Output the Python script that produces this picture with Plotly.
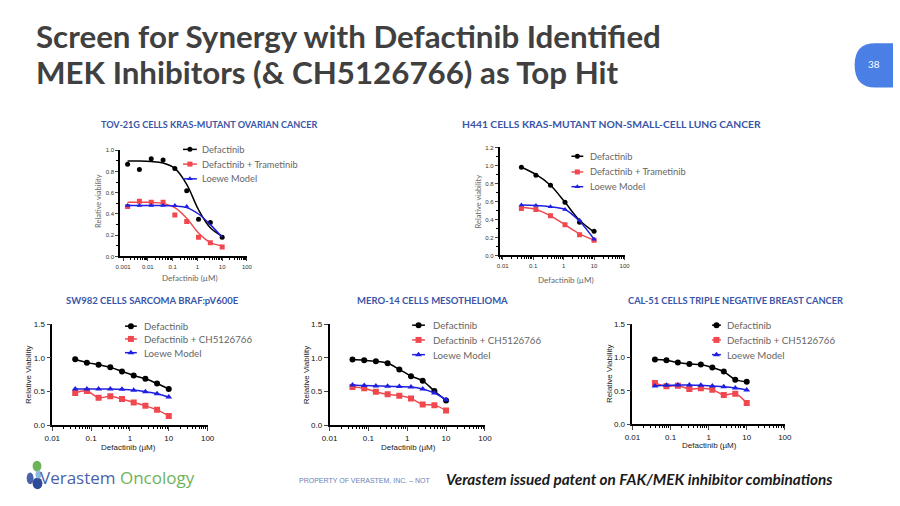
import plotly.graph_objects as go

W, H = 900, 506
def PX(x): return x / W
def PY(y): return 1 - y / H

# ---------------- DATA ----------------
# Panel 1: TOV-21G (Trametinib)
p1_x = [0.00152, 0.00457, 0.0137, 0.0412, 0.123, 0.37, 1.11, 3.33, 10]
p1_def = [0.87, 0.82, 0.92, 0.91, 0.83, 0.62, 0.35, 0.32, 0.18]
p1_combo = [0.47, 0.52, 0.51, 0.51, 0.39, 0.33, 0.18, 0.13, 0.09]
p1_loewe = [0.48, 0.48, 0.48, 0.48, 0.48, 0.47]
p1_def_fit = [0.90, 0.90, 0.895, 0.88, 0.83, 0.68, 0.44, 0.27, 0.19]
p1_combo_fit = [0.51, 0.51, 0.51, 0.50, 0.46, 0.36, 0.22, 0.13, 0.10]
p1_loewe_fit = [0.48, 0.48, 0.48, 0.48, 0.475, 0.46, 0.40, 0.30, 0.18]

# Panel 2: H441 (Trametinib)
p2_x = [0.041, 0.123, 0.37, 1.11, 3.33, 10]
p2_def = [0.98, 0.89, 0.78, 0.59, 0.37, 0.27]
p2_combo = [0.52, 0.51, 0.44, 0.34, 0.23, 0.17]
p2_loewe = [0.56, 0.555, 0.54, 0.51, 0.39, 0.18]
p2_def_fit = [0.98, 0.90, 0.78, 0.59, 0.39, 0.26]
p2_combo_fit = [0.535, 0.51, 0.44, 0.34, 0.24, 0.17]
p2_loewe_fit = [0.56, 0.555, 0.54, 0.51, 0.38, 0.18]

# Bottom panels (CH5126766)
bx = [0.039, 0.078, 0.156, 0.3125, 0.625, 1.25, 2.5, 5, 10]
p3_def = [0.98, 0.93, 0.90, 0.86, 0.80, 0.74, 0.69, 0.62, 0.54]
p3_combo = [0.48, 0.51, 0.41, 0.43, 0.39, 0.34, 0.29, 0.23, 0.14]
p3_loewe = [0.54, 0.54, 0.54, 0.54, 0.535, 0.52, 0.50, 0.47, 0.42]

p4_def = [0.975, 0.965, 0.95, 0.92, 0.83, 0.73, 0.66, 0.51, 0.37]
p4_combo = [0.57, 0.55, 0.50, 0.46, 0.44, 0.40, 0.31, 0.30, 0.22]
p4_loewe = [0.60, 0.59, 0.585, 0.58, 0.575, 0.57, 0.54, 0.48, 0.38]

p5_def = [0.97, 0.96, 0.925, 0.905, 0.895, 0.85, 0.79, 0.67, 0.64]
p5_combo = [0.62, 0.57, 0.58, 0.53, 0.54, 0.52, 0.44, 0.46, 0.32]
p5_loewe = [0.575, 0.585, 0.59, 0.59, 0.585, 0.575, 0.565, 0.545, 0.515]

titles = ["TOV-21G CELLS KRAS-MUTANT OVARIAN CANCER",
          "H441 CELLS KRAS-MUTANT NON-SMALL-CELL LUNG CANCER",
          "SW982 CELLS SARCOMA BRAF:pV600E",
          "MERO-14 CELLS MESOTHELIOMA",
          "CAL-51 CELLS TRIPLE NEGATIVE BREAST CANCER"]
legend_top = ["Defactinib", "Defactinib + Trametinib", "Loewe Model"]
legend_bot = ["Defactinib", "Defactinib + CH5126766", "Loewe Model"]
x_ticks = [0.001, 0.01, 0.1, 1, 10, 100]
x_ticktext = ["0.001", "0.01", "0.1", "1", "10", "100"]

BLACK = "#000000"
RED = "#F0484E"
BLUE = "#1F1FE0"
TITLE_BLUE = "#3A55A8"

fig = go.Figure()

# panel geometry in pixels: (x0, x1, ytop, ybot), log x range, y range
panels = [
    dict(box=(114, 243, 149, 257), xr=[-3.12, 2], yr=[0, 1.0], top=True),
    dict(box=(500, 627, 146, 256), xr=[-2.1, 2], yr=[0, 1.2], top=True),
    dict(box=(45, 203, 326, 429), xr=[-2, 2], yr=[0, 1.5], top=False),
    dict(box=(327, 485, 326, 429), xr=[-2, 2], yr=[0, 1.5], top=False),
    dict(box=(635, 790, 326, 428), xr=[-2, 2], yr=[0, 1.5], top=False),
]

layout_axes = {}
for i, p in enumerate(panels):
    n = i + 1
    x0, x1, yt, yb = p["box"]
    top = p["top"]
    tickfont = dict(family="Liberation Sans", size=6 if top else 8, color="#333" if top else "#111")
    xa = dict(domain=[PX(x0), PX(x1)], type="log", range=p["xr"], anchor=f"y{n}",
              tickvals=x_ticks, ticktext=x_ticktext, ticks="outside", ticklen=3 if top else 4,
              tickwidth=1.2, showline=True, linecolor="black", linewidth=1.5 if not top else 1.8,
              showgrid=False, zeroline=False, tickfont=tickfont,
              minor=dict(ticks="outside", ticklen=2, tickvals=[m * d for d in [0.001, 0.01, 0.1, 1, 10] for m in range(2, 10)],
                         tickcolor="black", showgrid=False))
    if top:
        ytv = [0, 0.2, 0.4, 0.6, 0.8, 1.0] if n == 1 else [0, 0.2, 0.4, 0.6, 0.8, 1.0, 1.2]
        yminor = [v / 10 for v in range(0, 13)]
    else:
        ytv = [0, 0.5, 1.0, 1.5]
        yminor = []
    ya = dict(domain=[PY(yb), PY(yt)], range=p["yr"], anchor=f"x{n}", tickvals=ytv,
              tickformat=".1f", ticks="outside", ticklen=3 if top else 4, tickwidth=1.2,
              showline=True, linecolor="black", linewidth=1.5 if not top else 1.8,
              showgrid=False, zeroline=False, tickfont=tickfont,
              minor=dict(ticks="outside", ticklen=2, tickvals=yminor, tickcolor="black", showgrid=False))
    sfx = "" if n == 1 else str(n)
    layout_axes["xaxis" + sfx] = xa
    layout_axes["yaxis" + sfx] = ya

# overlay axis for legend keys (whole slide in pixel units)
layout_axes["xaxis6"] = dict(domain=[0, 1], range=[0, W], visible=False, anchor="y6")
layout_axes["yaxis6"] = dict(domain=[0, 1], range=[H, 0], visible=False, anchor="x6")

def add_series(n, x, y, fit, color, symbol, msize, name):
    xa = "x" if n == 1 else f"x{n}"
    ya = "y" if n == 1 else f"y{n}"
    fig.add_trace(go.Scatter(x=x[:len(fit)], y=fit, mode="lines", line=dict(color=color, width=1.5, shape="spline", smoothing=1.0),
                             xaxis=xa, yaxis=ya, showlegend=False, hoverinfo="skip"))
    fig.add_trace(go.Scatter(x=x[:len(y)], y=y, mode="markers", marker=dict(color=color, symbol=symbol, size=msize),
                             xaxis=xa, yaxis=ya, showlegend=False, name=name))

# Panel 1 & 2
add_series(1, p1_x, p1_def, p1_def_fit, BLACK, "circle", 5, legend_top[0])
add_series(1, p1_x, p1_combo, p1_combo_fit, RED, "square", 5, legend_top[1])
add_series(1, p1_x, p1_loewe, p1_loewe_fit, BLUE, "triangle-up", 5, legend_top[2])
add_series(2, p2_x, p2_def, p2_def_fit, BLACK, "circle", 5, legend_top[0])
add_series(2, p2_x, p2_combo, p2_combo_fit, RED, "square", 5, legend_top[1])
add_series(2, p2_x, p2_loewe, p2_loewe_fit, BLUE, "triangle-up", 5, legend_top[2])
# Bottom panels
for n, (d, c, l) in zip([3, 4, 5], [(p3_def, p3_combo, p3_loewe), (p4_def, p4_combo, p4_loewe), (p5_def, p5_combo, p5_loewe)]):
    add_series(n, bx, d, d, BLACK, "circle", 6, legend_bot[0])
    add_series(n, bx, c, c, RED, "square", 6, legend_bot[1])
    add_series(n, bx, l, l, BLUE, "triangle-up", 6, legend_bot[2])

annotations = []
# Legend keys
legend_pos = [  # (line x0, line x1, text x, y rows, labels, font size)
    (178, 192, 195, [148, 163, 178], legend_top, 9.3),
    (573, 585, 590, [155, 171, 186], legend_top, 9.3),
    (119, 131, 136, [328, 341, 355], legend_bot, 9.7),
    (411, 424, 430, [327, 342, 357], legend_bot, 9.7),
    (716, 725, 729, [327, 342, 357], legend_bot, 9.7),
]
colors = [BLACK, RED, BLUE]
symbols = ["circle", "square", "triangle-up"]
for idx, (lx0, lx1, tx, rows, labels, fs) in enumerate(legend_pos):
    ms = 5 if idx < 2 else 6
    for k in range(3):
        fig.add_trace(go.Scatter(x=[lx0, lx1], y=[rows[k], rows[k]], mode="lines", line=dict(color=colors[k], width=1.5),
                                 xaxis="x6", yaxis="y6", showlegend=False, hoverinfo="skip"))
        fig.add_trace(go.Scatter(x=[(lx0 + lx1) / 2], y=[rows[k]], mode="markers",
                                 marker=dict(color=colors[k], symbol=symbols[k], size=ms),
                                 xaxis="x6", yaxis="y6", showlegend=False, hoverinfo="skip"))
        annotations.append(dict(x=PX(tx), y=PY(rows[k]), xref="paper", yref="paper", xanchor="left", yanchor="middle",
                                text=labels[k], showarrow=False, font=dict(family="Lato", size=fs, color="#666")))

# Panel titles
title_pos = [(205, 123, 9.1), (614, 122, 10.3), (147, 302, 9.5), (432, 302, 9.5), (740, 302, 9.3)]
for t, (x, y, fs) in zip(titles, title_pos):
    annotations.append(dict(x=PX(x), y=PY(y), xref="paper", yref="paper", xanchor="center", yanchor="middle",
                            text=f"<b>{t}</b>", showarrow=False, font=dict(family="Lato", size=fs, color=TITLE_BLUE)))

# Axis titles
ytitle = [("Relative viability", 92, 200, "Lato", 7.5, "#666"), ("Relative viability", 478, 201, "Lato", 7.5, "#666"),
          ("Relative Viability", 21, 377, "Liberation Sans", 8, "#222"), ("Relative Viability", 303, 377, "Liberation Sans", 8, "#222"),
          ("Relative Viability", 612, 376, "Liberation Sans", 8, "#222")]
for t, x, y, f, s, c in ytitle:
    annotations.append(dict(x=PX(x), y=PY(y), xref="paper", yref="paper", xanchor="center", yanchor="middle",
                            text=t, textangle=-90, showarrow=False, font=dict(family=f, size=s, color=c)))
xtitle = [("Defactinib (µM)", 185, 279, "Lato", 8, "#666"), ("Defactinib (µM)", 567, 281, "Lato", 8, "#666"),
          ("Defactinib (µM)", 123, 452, "Liberation Sans", 8, "#222"), ("Defactinib (µM)", 407, 452, "Liberation Sans", 8, "#222"),
          ("Defactinib (µM)", 713, 450, "Liberation Sans", 8, "#222")]
for t, x, y, f, s, c in xtitle:
    annotations.append(dict(x=PX(x), y=PY(y), xref="paper", yref="paper", xanchor="center", yanchor="middle",
                            text=t, showarrow=False, font=dict(family=f, size=s, color=c)))

# Slide title
annotations.append(dict(x=PX(26), y=PY(33), xref="paper", yref="paper", xanchor="left", yanchor="middle",
                        text="<b>Screen for Synergy with Defactinib Identified</b>", showarrow=False,
                        font=dict(family="Lato", size=31.3, color="#404040")))
annotations.append(dict(x=PX(26), y=PY(69), xref="paper", yref="paper", xanchor="left", yanchor="middle",
                        text="<b>MEK Inhibitors (&amp; CH5126766) as Top Hit</b>", showarrow=False,
                        font=dict(family="Lato", size=31.3, color="#404040")))
# page badge
annotations.append(dict(x=PX(881), y=PY(61), xref="paper", yref="paper", xanchor="center", yanchor="middle",
                        text="38", showarrow=False, font=dict(family="Lato", size=10, color="white")))

# Footer
annotations.append(dict(x=PX(31), y=PY(482), xref="paper", yref="paper", xanchor="left", yanchor="middle",
                        text="<span style='color:#4A62AC'>Verastem</span> <span style='color:#6DB35A'>Oncology</span>",
                        showarrow=False, font=dict(family="Open Sans", size=17)))
annotations.append(dict(x=PX(294), y=PY(485), xref="paper", yref="paper", xanchor="left", yanchor="middle",
                        text="PROPERTY OF VERASTEM, INC. – NOT", showarrow=False,
                        font=dict(family="Liberation Sans Narrow, Liberation Sans", size=7, color="#6B7FB8")))
annotations.append(dict(x=PX(443), y=PY(484), xref="paper", yref="paper", xanchor="left", yanchor="middle",
                        text="<b><i>Verastem issued patent on FAK/MEK inhibitor combinations</i></b>", showarrow=False,
                        font=dict(family="Lato", size=15.3, color="#1a1a1a")))

shapes = [
    # page number badge
    dict(type="path", xref="paper", yref="paper",
         path=f"M {PX(900)},{PY(40)} L {PX(882)},{PY(40)} Q {PX(861)},{PY(40)} {PX(861)},{PY(62)} Q {PX(861)},{PY(85)} {PX(882)},{PY(85)} L {PX(900)},{PY(85)} Z",
         fillcolor="#4A80E6", line=dict(width=0)),
    # logo glyph
    dict(type="circle", xref="paper", yref="paper", x0=PX(25), x1=PX(34), y0=PY(476), y1=PY(465),
         fillcolor="#6DB35A", line=dict(width=0)),
    dict(type="circle", xref="paper", yref="paper", x0=PX(19), x1=PX(26), y0=PY(489), y1=PY(477),
         fillcolor="#4A62AC", line=dict(width=0)),
    dict(type="circle", xref="paper", yref="paper", x0=PX(25), x1=PX(35), y0=PY(494), y1=PY(482),
         fillcolor="#2E4A9A", line=dict(width=0)),
    dict(type="circle", xref="paper", yref="paper", x0=PX(28), x1=PX(34), y0=PY(483), y1=PY(475),
         fillcolor="#8FB8E0", line=dict(width=0)),
]

fig.update_layout(width=W, height=H, margin=dict(l=0, r=0, t=0, b=0), paper_bgcolor="white", plot_bgcolor="rgba(0,0,0,0)",
                  annotations=annotations, shapes=shapes, showlegend=False, **layout_axes)

fig.write_html("out.html", config={"displayModeBar": False},
               post_script="document.body.style.margin='0';document.body.style.overflow='hidden';")
